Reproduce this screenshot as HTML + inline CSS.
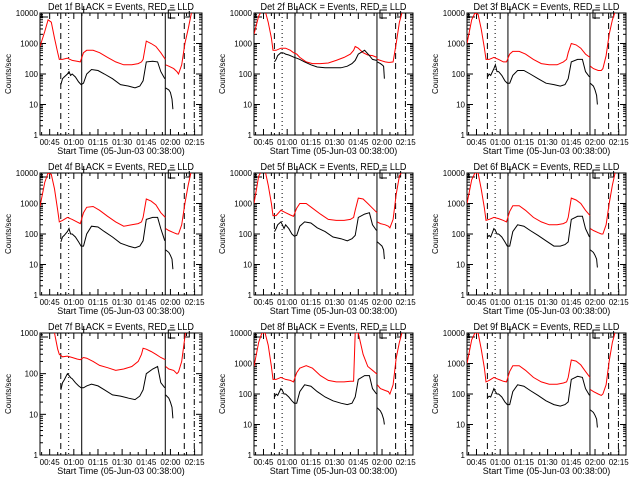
<!DOCTYPE html>
<html><head><meta charset="utf-8"><style>
html,body{margin:0;padding:0;background:#fff;}
svg{display:block;font-family:"Liberation Sans",sans-serif;}
</style></head><body>
<svg id="chart" width="640" height="480" viewBox="0 0 640 480"></svg>
<script>
// shared time grids (minutes since 00:39)
const redTimes = [0,3,5,7,9,11,12,14,17,20,23,25,27,29,33,37,42,47,52,57,61,63,64,66,69,72,75,77.8];
const redTailTimes = [78,80,83,85,86,88,90,92,94];
const blackTimes = [13,14,15,17,18,19,20,22,24,25.5,27,29,32,36,40,45,50,55,59,62,64,66,70,73,75,77.5];
const blackTailTimes = [78,80,81,82,82.5];
const tickLabels = ["00:45","01:00","01:15","01:30","01:45","02:00","02:15"];
const tickMinutes = [6,21,36,51,66,81,96];
const markerTimes = [12.9,17.8,25.9,77.8,89.6,95.8];
const detNames = ["1f","2f","3f","4f","5f","6f","7f","8f","9f"];
const yDecadesMax = [4,4,4,4,4,4,3,4,4];

const det1Red = [800,2500,6000,5000,1500,500,300,300,330,280,260,250,500,600,600,500,350,250,200,200,220,250,300,1200,1000,800,500,300];
const det1RedTail = [200,180,150,120,100,200,1000,3000,10000];
const det1Black = [45,70,80,100,120,90,100,80,55,45,50,100,140,130,100,70,45,40,35,40,60,250,260,250,120,70];
const det1BlackTail = [35,30,25,15,7];

const det2Red = [2000,8000,12000,12000,5000,1500,600,600,700,700,600,500,450,350,250,220,220,230,280,350,450,600,800,700,500,420,400,350];
const det2RedTail = [300,280,250,240,240,250,1000,5000,12000];
const det2Black = [250,300,400,500,500,480,450,420,380,350,330,300,250,200,170,160,160,160,180,220,280,450,600,400,300,280];
const det2BlackTail = [250,220,200,180,70];

const det3Red = [1000,6000,10000,9000,3000,700,300,300,350,300,250,250,450,550,550,450,300,220,200,200,250,300,500,1000,900,700,450,350];
const det3RedTail = [180,150,130,130,150,400,2000,6000,12000];
const det3Black = [80,100,90,150,200,120,120,90,60,50,50,90,130,130,100,70,50,45,40,45,70,250,300,300,120,80];
const det3BlackTail = [50,40,30,20,10];

const det4Red = [800,5000,10000,9000,3000,600,250,280,350,300,250,220,500,750,800,600,380,250,180,200,220,250,350,1400,1200,900,500,350];
const det4RedTail = [150,130,110,100,100,200,1000,4000,12000];
const det4Black = [55,80,90,120,150,100,100,80,55,40,40,100,180,170,120,80,50,40,35,40,60,300,350,350,150,60];
const det4BlackTail = [30,25,20,15,7];

const det5Red = [1000,8000,12000,12000,4000,1000,400,400,600,500,420,380,700,1000,1000,700,450,300,280,280,300,350,600,1500,1400,1000,700,500];
const det5RedTail = [250,220,200,180,160,300,2000,8000,12000];
const det5Black = [120,150,200,250,200,150,200,150,100,85,90,180,250,230,160,120,80,70,60,70,90,350,450,500,200,130];
const det5BlackTail = [55,45,40,30,15];

const det6Red = [1000,6000,10000,10000,3000,700,280,300,350,320,280,250,550,850,850,600,350,250,200,200,220,250,350,1500,1300,1000,600,400];
const det6RedTail = [150,130,110,100,100,200,1000,4000,12000];
const det6Black = [80,90,80,150,130,100,100,80,55,40,40,120,200,180,130,90,60,40,40,45,55,300,380,380,150,80];
const det6BlackTail = [30,25,20,15,8];

const det7Red = [3000,3000,3000,3000,1000,400,300,260,270,250,230,220,250,240,200,160,140,120,130,150,200,300,420,400,350,300,250,220];
const det7RedTail = [150,130,120,100,110,200,800,3000,5000];
const det7Black = [40,60,70,100,90,80,75,60,50,45,45,50,55,50,40,30,28,25,23,28,40,100,130,150,60,45];
const det7BlackTail = [30,25,20,15,8];

const det8Red = [800,5000,10000,10000,4000,800,300,300,350,300,280,250,500,700,850,700,400,280,250,250,260,260,10000,10000,2000,800,600,450];
const det8RedTail = [200,150,130,120,100,200,1500,5000,12000];
const det8Black = [80,100,90,150,130,100,100,80,60,50,50,120,200,180,120,80,60,50,45,50,80,300,400,400,150,100];
const det8BlackTail = [35,28,22,15,10];

const det9Red = [1000,6000,10000,10000,3000,700,250,280,350,300,260,250,550,850,850,600,350,250,210,210,230,250,350,1300,1200,900,550,350];
const det9RedTail = [140,120,100,90,100,200,1200,5000,12000];
const det9Black = [75,85,80,150,120,100,100,80,55,45,45,120,200,180,130,90,60,45,40,45,55,300,380,350,150,90];
const det9BlackTail = [30,25,20,15,8];

const redSets = [det1Red,det2Red,det3Red,det4Red,det5Red,det6Red,det7Red,det8Red,det9Red];
const redTailSets = [det1RedTail,det2RedTail,det3RedTail,det4RedTail,det5RedTail,det6RedTail,det7RedTail,det8RedTail,det9RedTail];
const blackSets = [det1Black,det2Black,det3Black,det4Black,det5Black,det6Black,det7Black,det8Black,det9Black];
const blackTailSets = [det1BlackTail,det2BlackTail,det3BlackTail,det4BlackTail,det5BlackTail,det6BlackTail,det7BlackTail,det8BlackTail,det9BlackTail];

const NS = "http://www.w3.org/2000/svg";
const svg = document.getElementById("chart");
function mk(tag, attrs, parent){
  const e = document.createElementNS(NS, tag);
  for (const k in attrs) e.setAttribute(k, attrs[k]);
  parent.appendChild(e);
  return e;
}
const colLeft = [40,254,467], colW = [162,159,159];
const rowTop = [13,173,333], H = 122, TMAX = 100.6;

for (let p = 0; p < 9; p++) {
  const c = p % 3, r = Math.floor(p / 3);
  const L = colLeft[c], W = colW[c], T = rowTop[r], B = T + H;
  const dmax = yDecadesMax[p];
  const xs = t => L + t / TMAX * W;
  const ys = v => B - Math.log10(Math.max(v, 1e-3)) / dmax * H;
  const g = mk("g", {}, svg);
  
  
  const cid = "clip" + p;
  const cp = mk("clipPath", {id: cid}, g);
  mk("rect", {x: L, y: T, width: W, height: H}, cp);

  // title
  const title = mk("text", {x: L + W/2, y: T - 3, "text-anchor": "middle", "font-size": 10, textLength: 146, lengthAdjust: "spacingAndGlyphs"}, g);
  title.textContent = "Det " + detNames[p] + " BLACK = Events, RED = LLD";
  
  

  // axes box
  const box = mk("rect", {x: L, y: T, width: W, height: H, fill: "none", stroke: "#000", "stroke-width": 1}, g);
  
  

  // y ticks
  for (let d = 0; d <= dmax; d++) {
    const y = ys(Math.pow(10, d));
    mk("line", {x1: L, x2: L + 6, y1: y, y2: y, stroke: "#000"}, g);
    mk("line", {x1: L + W - 6, x2: L + W, y1: y, y2: y, stroke: "#000"}, g);
    const lbl = mk("text", {x: L - 2, y: y + 3, "text-anchor": "end", "font-size": 8}, g);
    lbl.textContent = String(Math.pow(10, d));
    
    
    if (d < dmax) for (let m = 2; m <= 9; m++) {
      const ym = ys(m * Math.pow(10, d));
      mk("line", {x1: L, x2: L + 3, y1: ym, y2: ym, stroke: "#000"}, g);
      mk("line", {x1: L + W - 3, x2: L + W, y1: ym, y2: ym, stroke: "#000"}, g);
    }
  }
  // x ticks
  for (let m = 1; m < TMAX; m += 5) {
    const x = xs(m), major = ((m - 6) % 15 === 0);
    const len = major ? 6 : 3;
    mk("line", {x1: x, x2: x, y1: B, y2: B - len, stroke: "#000"}, g);
    mk("line", {x1: x, x2: x, y1: T, y2: T + len, stroke: "#000"}, g);
  }
  tickMinutes.forEach((m, i) => {
    const t = mk("text", {x: xs(m), y: B + 10, "text-anchor": "middle", "font-size": 8}, g);
    t.textContent = tickLabels[i];
    
    
  });
  const xt = mk("text", {x: L + W/2, y: B + 19, "text-anchor": "middle", "font-size": 9}, g);
  xt.textContent = "Start Time (05-Jun-03 00:38:00)";
  
  
  const yt = mk("text", {x: 0, y: 0, "text-anchor": "middle", "font-size": 8, transform: "translate(" + (L - 29) + "," + (T + H/2) + ") rotate(-90)"}, g);
  yt.textContent = "Counts/sec";
  
  

  // marker lines
  const dashes = ["6,4", "1,3", "", "", "6,4", "6,2,1,2"];
  markerTimes.forEach((t, i) => {
    const x = xs(t);
    const ml = mk("line", {x1: x, x2: x, y1: T, y2: B, stroke: "#000", "stroke-dasharray": dashes[i]}, g);
    
    
  });
  // small bracket flags
  mk("polyline", {points: (L+8)+","+(T+4)+" "+L+","+(T+4)+" "+L+","+T, fill: "none", stroke: "#000"}, g);
  mk("line", {x1: xs(25.9)+2, x2: xs(25.9)+2, y1: T - 7, y2: T, stroke: "#000"}, g);
  mk("polyline", {points: (xs(77.8)+10)+","+(T-3)+" "+(xs(77.8)+3)+","+(T-3)+" "+(xs(77.8)+3)+","+(T+5)+" "+(xs(77.8)+10)+","+(T+5), fill: "none", stroke: "#000"}, g);
  mk("polyline", {points: (xs(89.6)+1)+","+(T+4)+" "+(xs(89.6)+5)+","+(T+4)+" "+(xs(89.6)+5)+","+(T-2), fill: "none", stroke: "#000"}, g);

  // series
  const gs = mk("g", {"clip-path": "url(#" + cid + ")"}, g);
  function line(ts, vs, color, name) {
    const pts = ts.map((t, i) => xs(t).toFixed(1) + "," + ys(vs[i]).toFixed(1)).join(" ");
    const pl = mk("polyline", {points: pts, fill: "none", stroke: color, "stroke-width": 1}, gs);
    
    
  }
  line(redTimes, redSets[p], "#ff0000", "lld-series");
  line(redTailTimes, redTailSets[p], "#ff0000", "lld-series-tail");
  line(blackTimes, blackSets[p], "#000000", "events-series");
  line(blackTailTimes, blackTailSets[p], "#000000", "events-series-tail");
}
</script>
</body></html>
